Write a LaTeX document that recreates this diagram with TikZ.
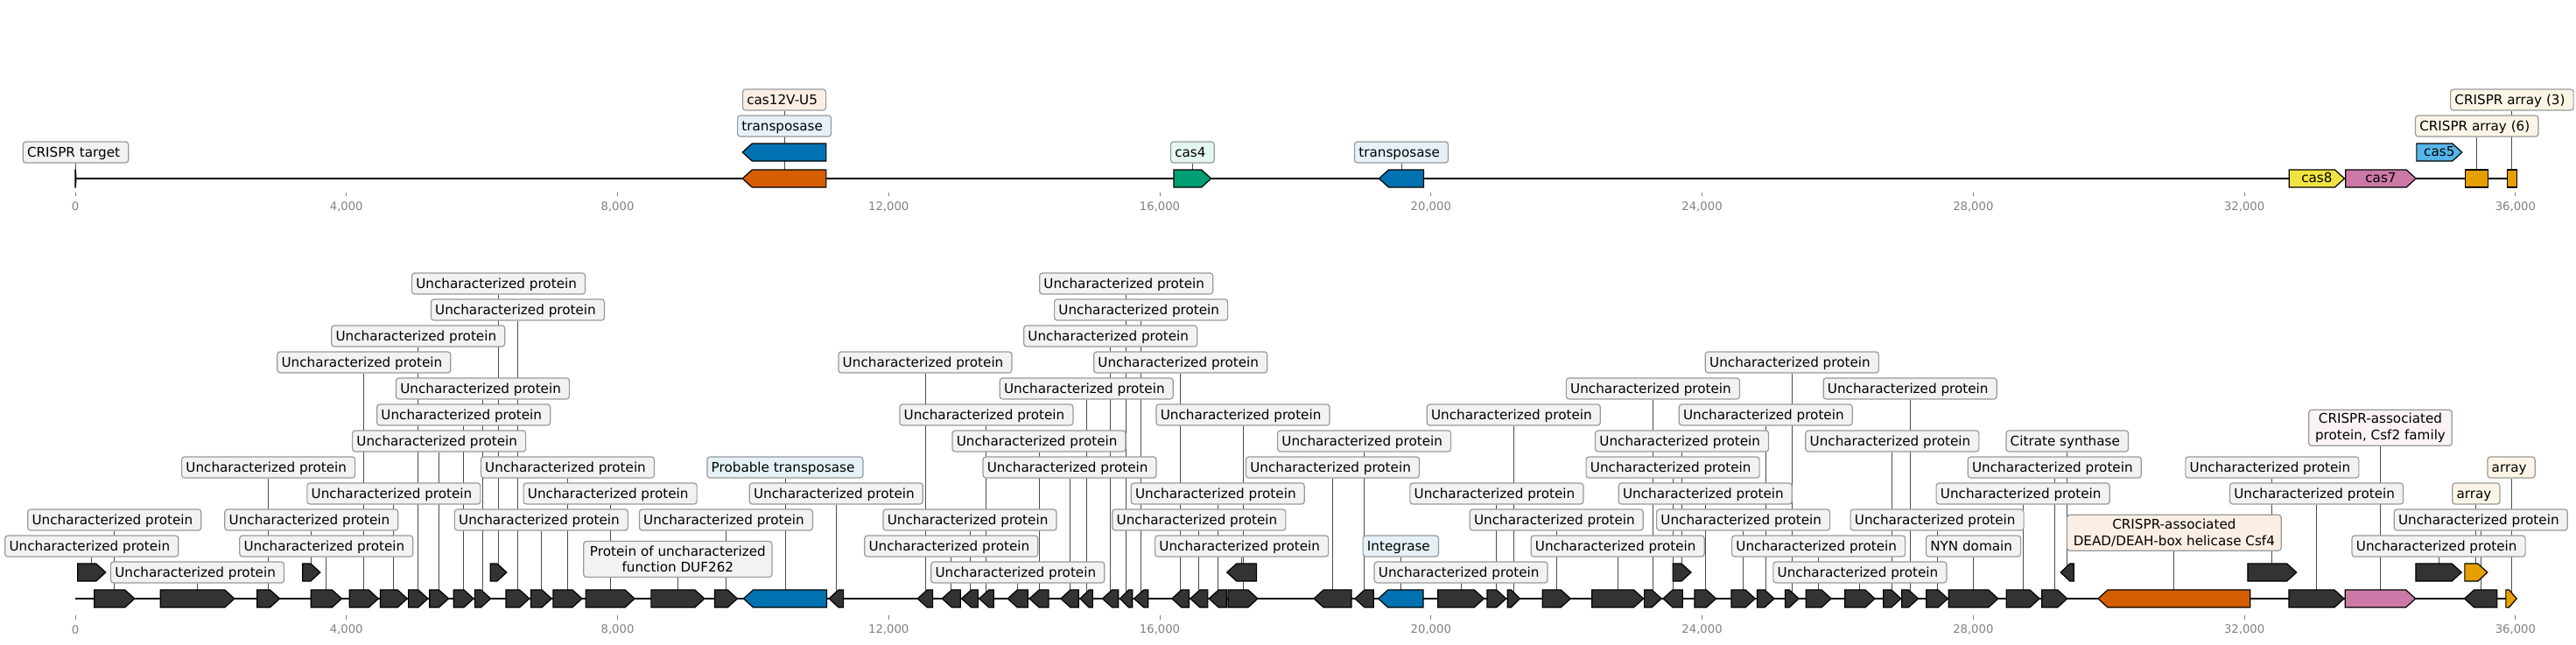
\documentclass[tikz,border=0pt]{standalone}
\usepackage{fontspec}
\setmainfont{DejaVu Sans}
\definecolor{cDark}{HTML}{333333}
\definecolor{cBlue}{HTML}{0072B2}
\definecolor{cVerm}{HTML}{D55E00}
\definecolor{cGreen}{HTML}{009E73}
\definecolor{cYellow}{HTML}{F0E442}
\definecolor{cPink}{HTML}{CC79A7}
\definecolor{cSky}{HTML}{56B4E9}
\definecolor{cOrange}{HTML}{E69F00}
\pgfdeclarelayer{bg}\pgfsetlayers{bg,main}
\tikzset{
  gene/.style={draw=black,line width=0.6pt,line join=miter},
  axisline/.style={draw=black,line width=0.85pt},
  conn/.style={draw=black!70,line width=0.45pt},
  tickmark/.style={draw=gray,line width=0.4pt},
  ticklab/.style={text=gray,font=\fontsize{6.6}{8}\selectfont,inner sep=0pt},
  labbase/.style={draw=gray!80,line width=0.6pt,rounded corners=1.6pt,inner xsep=3.6pt,font=\fontsize{7.6}{9.2}\selectfont},
  lab/.style={labbase,fill=gray!10,inner xsep=2.4pt,inner ysep=0pt,minimum height=12pt,text height=6.55pt,text depth=0.85pt,execute at end node={\hspace{2.4pt}}},
  labB/.style={lab,fill=cBlue!10},
  labV/.style={lab,fill=cVerm!10},
  labG/.style={lab,fill=cGreen!10},
  labO/.style={lab,fill=cOrange!10},
  lab2/.style={labbase,fill=gray!10,inner ysep=1.2pt,minimum height=20.5pt,align=center},
  labV2/.style={lab2,fill=cVerm!10},
  labP2/.style={lab2,fill=cPink!10},
  intext/.style={font=\fontsize{7.6}{9.2}\selectfont,inner sep=0pt,text height=5.8pt,text depth=1.6pt}
}
% shape: dir a b y color
\newcommand\gshape[5]{%
  \pgfmathsetmacro\myA{#2}%
  \pgfmathsetmacro\myB{#3}%
  \pgfmathsetmacro\myT{min(0.142,0.7*(\myB-\myA))}%
  \pgfmathsetmacro\myC{(\myA+\myB)/2}%
  \if R#1\filldraw[gene,fill=#5] (\myA,#4-10) -- (\myB-\myT,#4-10) -- (\myB,#4) -- (\myB-\myT,#4+10) -- (\myA,#4+10) -- cycle;\fi
  \if L#1\filldraw[gene,fill=#5] (\myB,#4-10) -- (\myA+\myT,#4-10) -- (\myA,#4) -- (\myA+\myT,#4+10) -- (\myB,#4+10) -- cycle;\fi
  \if B#1\filldraw[gene,fill=#5] (\myA,#4-10) rectangle (\myB,#4+10);\fi
}
% feat: dir name a b y color labely labstyle text
\newcommand\feat[9]{%
  \gshape{#1}{#3}{#4}{#5}{#6}%
  \coordinate (#2) at (\myC,#5);
  \node[#8] (l#2) at (\myC,#7) {#9};
  \begin{pgfonlayer}{bg}\draw[conn] (l#2) -- (#2);\end{pgfonlayer}%
}
% featI: dir name a b y color text (label inside)
\newcommand\featI[7]{%
  \gshape{#1}{#3}{#4}{#5}{#6}%
  \node[intext] (#2) at (\myC,#5) {#7};
}
\newcommand\UP{Uncharacterized protein}
\begin{document}
\begin{tikzpicture}[x=38.72pt,y=-0.5pt]
\useasboundingbox (-1.1105,0) rectangle (36.893,736);
% ---------- axes ----------
\coordinate (ts) at (0,204); \coordinate (te) at (36.017,204);
\coordinate (bs) at (0,684); \coordinate (be) at (36.017,684);
\draw[axisline] (ts) -- (te);
\draw[axisline] (bs) -- (be);
\draw[tickmark] (0,220) -- (0,224);
\node[ticklab] (tt0) at (0,236) {0};
\draw[tickmark] (0,703) -- (0,707.5);
\node[ticklab] (bt0) at (0,719.5) {0};
\foreach \k in {4,8,...,36}{
  \draw[tickmark] (\k,220) -- (\k,224);
  \node[ticklab] (tt\k) at (\k,236) {\k,000};
  \draw[tickmark] (\k,703) -- (\k,707.5);
  \node[ticklab] (bt\k) at (\k,719.5) {\k,000};
}
% ---------- top track ----------
\feat{R}{t0}{0}{0.012}{204}{black}{174}{lab}{CRISPR target}
\feat{L}{t1}{9.843}{11.078}{204}{cVerm}{114}{labV}{cas12V-U5}
\feat{L}{t2}{9.843}{11.078}{174}{cBlue}{144}{labB}{transposase}
\feat{R}{t3}{16.206}{16.757}{204}{cGreen}{174}{labG}{cas4}
\feat{L}{t4}{19.234}{19.893}{204}{cBlue}{174}{labB}{transposase}
\featI{R}{t5}{32.661}{33.477}{204}{cYellow}{cas8}
\featI{R}{t6}{33.494}{34.532}{204}{cPink}{cas7}
\featI{R}{t7}{34.541}{35.211}{174}{cSky}{cas5}
\feat{B}{t8}{35.262}{35.597}{204}{cOrange}{144}{labO}{CRISPR array (6)}
\feat{B}{t9}{35.880}{36.017}{204}{cOrange}{114}{labO}{CRISPR array (3)}
% ---------- bottom track ----------
\feat{R}{g1}{0.282}{0.875}{684}{cDark}{594}{lab}{\UP}
\feat{R}{g2}{1.255}{2.348}{684}{cDark}{654}{lab}{\UP}
\feat{R}{g3}{2.682}{3.016}{684}{cDark}{534}{lab}{\UP}
\feat{R}{g4}{3.476}{3.931}{684}{cDark}{624}{lab}{\UP}
\feat{R}{g5}{4.046}{4.472}{684}{cDark}{414}{lab}{\UP}
\feat{R}{g6}{4.500}{4.898}{684}{cDark}{564}{lab}{\UP}
\feat{R}{g7}{4.915}{5.203}{684}{cDark}{384}{lab}{\UP}
\feat{R}{g8}{5.226}{5.508}{684}{cDark}{504}{lab}{\UP}
\feat{R}{g9}{5.582}{5.876}{684}{cDark}{474}{lab}{\UP}
\feat{R}{g10}{5.893}{6.129}{684}{cDark}{444}{lab}{\UP}
\feat{R}{g11}{6.354}{6.699}{684}{cDark}{354}{lab}{\UP}
\feat{R}{g12}{6.722}{7.027}{684}{cDark}{594}{lab}{\UP}
\feat{R}{g13}{7.050}{7.476}{684}{cDark}{534}{lab}{\UP}
\feat{R}{g14}{7.530}{8.253}{684}{cDark}{564}{lab}{\UP}
\feat{R}{g15}{8.495}{9.283}{684}{cDark}{639}{lab2}{Protein of uncharacterized\\function DUF262}
\feat{R}{g16}{9.433}{9.767}{684}{cDark}{594}{lab}{\UP}
\feat{L}{g17}{9.859}{11.085}{684}{cBlue}{534}{labB}{Probable transposase}
\feat{L}{g18}{11.119}{11.332}{684}{cDark}{564}{lab}{\UP}
\feat{L}{g19}{12.426}{12.650}{684}{cDark}{414}{lab}{\UP}
\feat{L}{g20}{12.788}{13.059}{684}{cDark}{624}{lab}{\UP}
\feat{L}{g21}{13.076}{13.318}{684}{cDark}{594}{lab}{\UP}
\feat{L}{g22}{13.335}{13.548}{684}{cDark}{474}{lab}{\UP}
\feat{L}{g23}{13.755}{14.054}{684}{cDark}{654}{lab}{\UP}
\feat{L}{g24}{14.077}{14.359}{684}{cDark}{504}{lab}{\UP}
\feat{L}{g25}{14.538}{14.802}{684}{cDark}{534}{lab}{\UP}
\feat{L}{g26}{14.825}{15.010}{684}{cDark}{444}{lab}{\UP}
\feat{L}{g27}{15.154}{15.390}{684}{cDark}{384}{lab}{\UP}
\feat{L}{g28}{15.412}{15.597}{684}{cDark}{324}{lab}{\UP}
\feat{L}{g29}{15.620}{15.827}{684}{cDark}{354}{lab}{\UP}
\feat{L}{g30}{16.178}{16.432}{684}{cDark}{414}{lab}{\UP}
\feat{L}{g31}{16.449}{16.708}{684}{cDark}{594}{lab}{\UP}
\feat{L}{g32}{16.725}{16.984}{684}{cDark}{564}{lab}{\UP}
\feat{R}{g33}{17.007}{17.445}{684}{cDark}{474}{lab}{\UP}
\feat{L}{g34}{18.273}{18.826}{684}{cDark}{534}{lab}{\UP}
\feat{L}{g35}{18.878}{19.154}{684}{cDark}{504}{lab}{\UP}
\feat{L}{g36}{19.223}{19.885}{684}{cBlue}{624}{labB}{Integrase}
\feat{R}{g37}{20.103}{20.782}{684}{cDark}{654}{lab}{\UP}
\feat{R}{g38}{20.829}{21.110}{684}{cDark}{564}{lab}{\UP}
\feat{R}{g39}{21.128}{21.312}{684}{cDark}{474}{lab}{\UP}
\feat{R}{g40}{21.646}{22.060}{684}{cDark}{594}{lab}{\UP}
\feat{R}{g41}{22.374}{23.136}{684}{cDark}{624}{lab}{\UP}
\feat{R}{g42}{23.148}{23.401}{684}{cDark}{444}{lab}{\UP}
\feat{L}{g43}{23.424}{23.712}{684}{cDark}{534}{lab}{\UP}
\feat{R}{g44}{23.890}{24.206}{684}{cDark}{564}{lab}{\UP}
\feat{R}{g45}{24.432}{24.783}{684}{cDark}{594}{lab}{\UP}
\feat{R}{g46}{24.812}{25.065}{684}{cDark}{474}{lab}{\UP}
\feat{R}{g47}{25.226}{25.428}{684}{cDark}{414}{lab}{\UP}
\feat{R}{g48}{25.531}{25.905}{684}{cDark}{624}{lab}{\UP}
\feat{R}{g49}{26.107}{26.550}{684}{cDark}{654}{lab}{\UP}
\feat{R}{g50}{26.676}{26.935}{684}{cDark}{504}{lab}{\UP}
\feat{R}{g51}{26.947}{27.189}{684}{cDark}{444}{lab}{\UP}
\feat{R}{g52}{27.309}{27.626}{684}{cDark}{594}{lab}{\UP}
\feat{R}{g53}{27.637}{28.368}{684}{cDark}{624}{lab}{NYN domain}
\feat{R}{g54}{28.489}{28.978}{684}{cDark}{564}{lab}{\UP}
\feat{R}{g55}{29.013}{29.387}{684}{cDark}{534}{lab}{\UP}
\feat{L}{g56}{29.842}{32.086}{684}{cVerm}{608.8}{labV2}{CRISPR-associated\\DEAD/DEAH-box helicase Csf4}
\feat{R}{g57}{32.658}{33.471}{684}{cDark}{564}{lab}{\UP}
\feat{R}{g58}{33.488}{34.525}{684}{cPink}{488.8}{labP2}{CRISPR-associated\\protein, Csf2 family}
\feat{L}{g59}{35.247}{35.729}{684}{cDark}{594}{lab}{\UP}
\feat{R}{g60}{35.858}{36.017}{684}{cOrange}{534}{labO}{array}
% level 1
\feat{R}{ga}{0.035}{0.449}{654}{cDark}{624}{lab}{\UP}
\feat{R}{gb}{3.355}{3.614}{654}{cDark}{594}{lab}{\UP}
\feat{R}{gc}{6.123}{6.365}{654}{cDark}{324}{lab}{\UP}
\feat{L}{gd}{16.990}{17.427}{654}{cDark}{624}{lab}{\UP}
\feat{R}{ge}{23.568}{23.838}{654}{cDark}{504}{lab}{\UP}
\feat{L}{gf}{29.289}{29.485}{654}{cDark}{504}{lab}{Citrate synthase}
\feat{R}{gg}{32.050}{32.770}{654}{cDark}{534}{lab}{\UP}
\feat{R}{gh}{34.529}{35.204}{654}{cDark}{624}{lab}{\UP}
\feat{R}{gi}{35.251}{35.587}{654}{cOrange}{564}{labO}{array}
\end{tikzpicture}
\end{document}
